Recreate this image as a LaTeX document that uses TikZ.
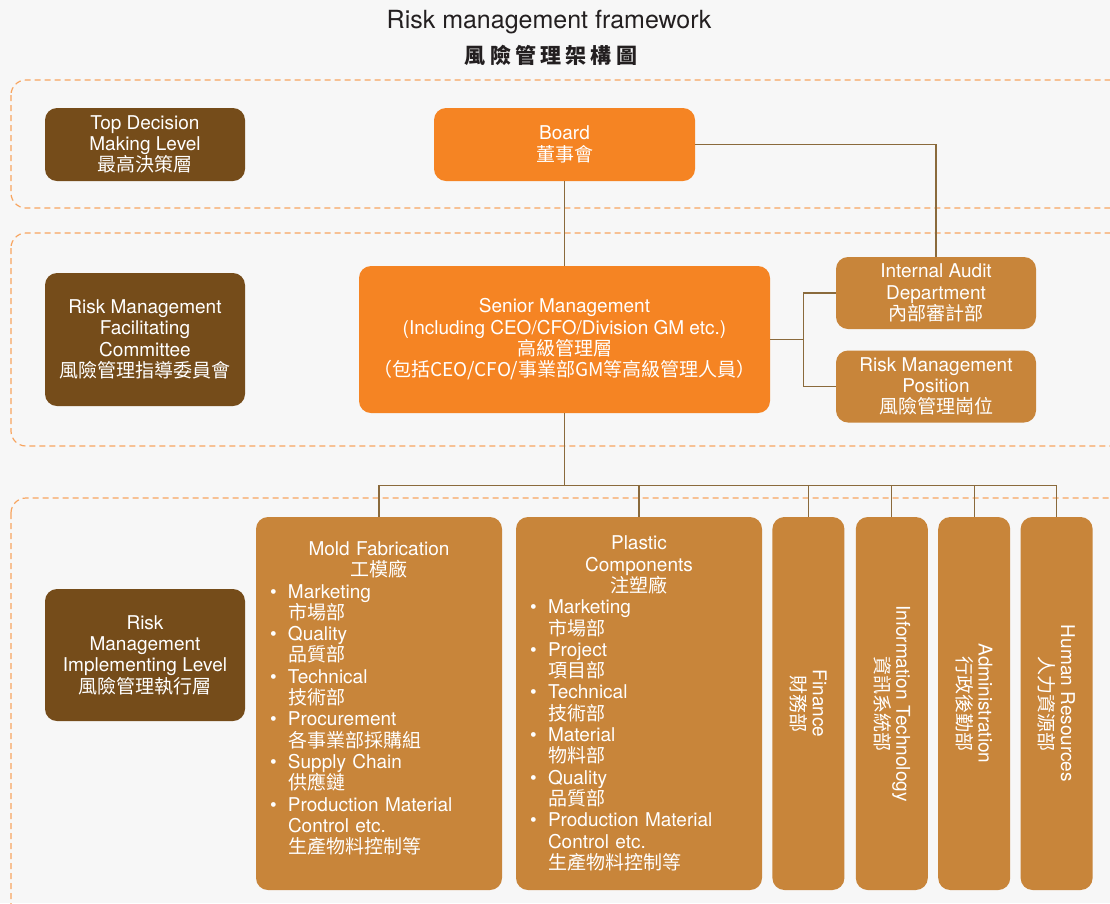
\documentclass[tikz,border=0pt]{standalone}
\usepackage{fontspec}
\setmainfont{TeX Gyre Heros}
\newfontfamily\cjk{Noto Sans CJK TC}
\newfontfamily\cjktitle[LetterSpace=20]{Noto Sans CJK TC}
\usetikzlibrary{positioning}
\definecolor{LevelBrown}{HTML}{754C1A}
\definecolor{BoardOrange}{HTML}{F58423}
\definecolor{DeptBrown}{HTML}{C8853A}
\definecolor{LinkBrown}{HTML}{8A6A3C}
\definecolor{ZoneOrange}{HTML}{F7A560}
\definecolor{PageGray}{HTML}{F7F7F7}
\definecolor{TitleGray}{HTML}{231F20}
\newcommand{\zh}[1]{{\cjk #1}}
\newcommand{\bodyfont}{\fontsize{19}{21.3}\selectfont}
\newcommand{\itm}[1]{\makebox[18pt][l]{\textbullet}#1}
\newcommand{\ind}{\hspace*{18pt}}

\begin{document}
\begin{tikzpicture}[x=1pt,y=-1pt]
	\tikzset{ZoneStyle/.style = {draw=ZoneOrange, line width=1.2pt, dash pattern=on 6pt off 4pt, rounded corners=15pt},
		LevelStyle/.style = {rectangle, rounded corners=12pt, fill=LevelBrown, text=white, align=center, font=\bodyfont, minimum width=200pt, inner sep=0pt},
		BoardStyle/.style = {rectangle, rounded corners=12pt, fill=BoardOrange, text=white, align=center, font=\bodyfont, inner sep=0pt},
		DeptStyle/.style = {rectangle, rounded corners=12pt, fill=DeptBrown, text=white, align=center, font=\bodyfont, inner sep=0pt},
		TextStyle/.style = {text=white, font=\bodyfont, inner sep=0pt},
		EdgeStyle/.style = {draw=LinkBrown, line width=1.2pt}}
	\fill[PageGray] (0,0) rectangle (1110,903);
	\useasboundingbox (0,0) rectangle (1110,903);
	\begin{scope}
		\clip (0,0) rectangle (1110,903);
		\draw[ZoneStyle] (11,80) rectangle (1140,208);
		\draw[ZoneStyle] (11,233) rectangle (1140,446);
		\draw[ZoneStyle] (11,498) rectangle (1140,940);
	\end{scope}
	\node[text=TitleGray, font=\fontsize{25}{30}\selectfont] (title) at (549,22) {Risk management framework};
	\node[text=TitleGray, font=\cjktitle\bfseries\fontsize{21}{25}\selectfont] (titlezh) at (551,55) {風險管理架構圖};
	% levels
	\node[LevelStyle, minimum height=73pt] (toplvl) at (145,144.5) {Top Decision\\Making Level\\\zh{最高決策層}};
	\node[LevelStyle, minimum height=133pt] (facil) at (145,339.5) {Risk Management\\Facilitating\\Committee\\\zh{風險管理指導委員會}};
	\node[LevelStyle, minimum height=132pt] (implvl) at (145,655) {Risk\\Management\\Implementing Level\\\zh{風險管理執行層}};
	% top and senior
	\node[BoardStyle, minimum width=261pt, minimum height=73pt] (board) at (564.5,144.5) {Board\\\zh{董事會}};
	\node[BoardStyle, minimum width=411pt, minimum height=147pt] (senior) at (564.5,339.5) {Senior Management\\(Including CEO/CFO/Division GM etc.)\\\zh{高級管理層}\\\zh{（包括CEO/CFO/事業部GM等高級管理人員）}};
	\node[DeptStyle, minimum width=200pt, minimum height=72pt] (audit) at (936,293) {Internal Audit\\Department\\\zh{內部審計部}};
	\node[DeptStyle, minimum width=200pt, minimum height=72pt] (riskpos) at (936,386.5) {Risk Management\\Position\\\zh{風險管理崗位}};
	% departments
	\node[DeptStyle, minimum width=246pt, minimum height=373pt] (mold) at (379,703.5) {};
	\node[DeptStyle, minimum width=246pt, minimum height=373pt] (plastic) at (639,703.5) {};
	\node[DeptStyle, minimum width=72pt, minimum height=373pt, right=10pt of plastic] (fin) {};
	\node[DeptStyle, minimum width=72pt, minimum height=373pt, right=11pt of fin] (it) {};
	\node[DeptStyle, minimum width=72pt, minimum height=373pt, right=10pt of it] (admin) {};
	\node[DeptStyle, minimum width=72pt, minimum height=373pt, right=10pt of admin] (hr) {};
	\node[TextStyle, text width=246pt] (moldtxt) at ([yshift=5pt]mold.center) {\centering Mold Fabrication\\\zh{工模廠}\par
		\raggedright\leftskip=14pt
		\itm{Marketing}\\\ind\zh{市場部}\\\itm{Quality}\\\ind\zh{品質部}\\\itm{Technical}\\\ind\zh{技術部}\\
		\itm{Procurement}\\\ind\zh{各事業部採購組}\\\itm{Supply Chain}\\\ind\zh{供應鏈}\\
		\itm{Production Material}\\\ind Control etc.\\\ind\zh{生產物料控制等}\par};
	\node[TextStyle, text width=246pt] (plastictxt) at (plastic.center) {\centering Plastic\\Components\\\zh{注塑廠}\par
		\raggedright\leftskip=14pt
		\itm{Marketing}\\\ind\zh{市場部}\\\itm{Project}\\\ind\zh{項目部}\\\itm{Technical}\\\ind\zh{技術部}\\
		\itm{Material}\\\ind\zh{物料部}\\\itm{Quality}\\\ind\zh{品質部}\\
		\itm{Production Material}\\\ind Control etc.\\\ind\zh{生產物料控制等}\par};
	\node[TextStyle, rotate=-90, align=center] (fintxt) at (fin.center) {Finance\\\zh{財務部}};
	\node[TextStyle, rotate=-90, align=center] (ittxt) at (it.center) {Information Technology\\\zh{資訊系統部}};
	\node[TextStyle, rotate=-90, align=center] (admintxt) at (admin.center) {Administration\\\zh{行政後勤部}};
	\node[TextStyle, rotate=-90, align=center] (hrtxt) at (hr.center) {Human Resources\\\zh{人力資源部}};
	% links
	\draw[EdgeStyle] (board.east) -| (audit.north);
	\draw[EdgeStyle] (board.south) -- (senior.north);
	\draw[EdgeStyle] (senior.east) -- ++(33,0) coordinate (fork);
	\draw[EdgeStyle] (audit.west) -| (fork) |- (riskpos.west);
	\draw[EdgeStyle] (senior.south) -- ++(0,72) coordinate (bus);
	\draw[EdgeStyle] (mold.north |- bus) -- (hr.north |- bus);
	\foreach \n in {mold,plastic,fin,it,admin,hr}
		\draw[EdgeStyle] (\n.north |- bus) -- (\n.north);
\end{tikzpicture}
\end{document}
